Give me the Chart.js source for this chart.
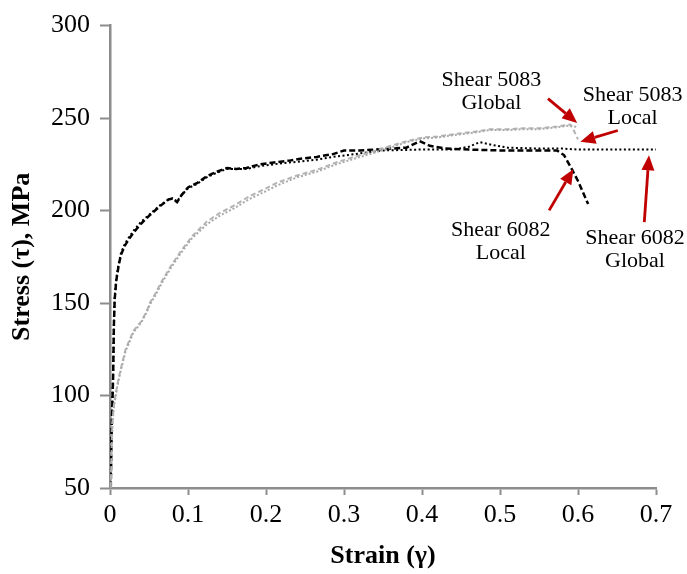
<!DOCTYPE html>
<html>
<head>
<meta charset="utf-8">
<script src="https://cdn.jsdelivr.net/npm/chart.js@4.4.1/dist/chart.umd.min.js"></script>
<style>
  html, body { margin: 0; padding: 0; background: #fff; }
  canvas { display: block; }
</style>
</head>
<body>
<canvas id="grafico" width="687" height="574"></canvas>
<script>
// Valores (deformación, tensión en MPa)
const strain6082Local = [0.001, 0.002, 0.004, 0.005, 0.006, 0.008, 0.011, 0.014, 0.019, 0.025, 0.03, 0.04, 0.051, 0.063, 0.075, 0.08, 0.086, 0.092, 0.1, 0.112, 0.124, 0.137, 0.15, 0.162, 0.175, 0.192, 0.21, 0.23, 0.244, 0.265, 0.286, 0.3, 0.32, 0.34, 0.36, 0.38, 0.397, 0.41, 0.43, 0.46, 0.5, 0.54, 0.573, 0.582, 0.59, 0.6, 0.613];
const stress6082Local = [50, 80, 110, 138, 152, 162, 170, 176, 181, 185, 188, 193, 197.5, 202, 206, 206.5, 204.5, 208.5, 212.5, 215, 218.5, 221, 223, 222.5, 223, 225, 226, 227, 228, 229, 230.5, 232.5, 232.5, 233, 233.5, 234, 237.5, 235, 233.5, 233, 232.5, 232.5, 232.5, 230, 224, 216, 203.5];

const strain6082Global = [0.001, 0.002, 0.004, 0.005, 0.006, 0.008, 0.011, 0.014, 0.019, 0.025, 0.03, 0.04, 0.051, 0.063, 0.075, 0.08, 0.086, 0.092, 0.1, 0.112, 0.124, 0.137, 0.15, 0.162, 0.175, 0.192, 0.21, 0.23, 0.244, 0.265, 0.286, 0.305, 0.33, 0.35, 0.4, 0.44, 0.46, 0.474, 0.49, 0.51, 0.55, 0.58, 0.6, 0.65, 0.7];
const stress6082Global = [50, 82, 112, 140, 153, 163, 171, 177, 182, 186, 189, 194, 198, 202.5, 206, 206.5, 205, 208.5, 212, 214.5, 218, 220.5, 222.5, 222.5, 222.5, 224, 225, 226, 226.5, 227.5, 229, 230, 231.5, 232.5, 233, 233, 234.5, 237, 235.5, 234, 233.5, 233.5, 233, 233, 233];

const strain5083Local = [0.001, 0.003, 0.005, 0.007, 0.009, 0.013, 0.02, 0.03, 0.04, 0.047, 0.051, 0.058, 0.066, 0.078, 0.09, 0.105, 0.124, 0.14, 0.158, 0.18, 0.2, 0.214, 0.24, 0.265, 0.29, 0.305, 0.337, 0.36, 0.38, 0.401, 0.42, 0.444, 0.465, 0.487, 0.51, 0.53, 0.55, 0.573, 0.59, 0.595, 0.6];
const stress5083Local = [50, 85, 95, 100, 105, 113, 125, 135, 140, 145.5, 150, 155, 161.5, 170, 177.5, 186, 194, 198.5, 202.5, 208, 212, 215, 219, 222, 226, 228, 232, 235, 237.5, 239.5, 240, 241.5, 242.5, 244, 244, 244.5, 244.5, 245.5, 246.5, 243, 238.5];

const strain5083Global = [0.001, 0.003, 0.005, 0.007, 0.009, 0.013, 0.02, 0.03, 0.04, 0.047, 0.051, 0.058, 0.066, 0.078, 0.09, 0.105, 0.124, 0.14, 0.158, 0.18, 0.2, 0.214, 0.24, 0.265, 0.29, 0.305, 0.337, 0.36, 0.38, 0.401, 0.42, 0.444, 0.465, 0.487, 0.51, 0.53, 0.55, 0.573, 0.59, 0.6];
const stress5083Global = [50, 84, 94, 99, 104, 112, 124, 134, 139.5, 145, 149, 154, 160.5, 169, 176.5, 185, 192.5, 197, 201, 206.5, 210.5, 213.5, 218, 221, 225, 227, 231, 234, 237, 239, 239.5, 241, 242, 243.5, 243.5, 244, 244, 245, 246, 245];

const xTicks = [0, 0.1, 0.2, 0.3, 0.4, 0.5, 0.6, 0.7];
const yTicks = [50, 100, 150, 200, 250, 300];

const labelLines = [
  ["Shear 5083", "Global"],
  ["Shear 5083", "Local"],
  ["Shear 6082", "Local"],
  ["Shear 6082", "Global"]
];

// Posiciones de las etiquetas y flechas (en unidades de datos)
const anotaciones = [
  { x: 0.489, y: 270.5, from: [0.5615, 260.5], to: [0.599, 247.4] },
  { x: 0.670, y: 262.6, from: [0.651, 243.3], to: [0.603, 237.2] },
  { x: 0.501, y: 189.5, from: [0.563, 200.1], to: [0.594, 222.4] },
  { x: 0.673, y: 184.8, from: [0.685, 193.8], to: [0.691, 229.9] }
];

const SERIF = "'Liberation Serif', 'Times New Roman', serif";
const ROJO = "#c00000";
const GRIS_EJE = "#8c8c8c";

function puntos(xs, ys) {
  return xs.map((x, i) => ({ x: x, y: ys[i] }));
}

const pluginAnotaciones = {
  id: "anotaciones",
  afterDatasetsDraw(chart) {
    const ctx = chart.ctx;
    const sx = chart.scales.x;
    const sy = chart.scales.y;
    ctx.save();
    anotaciones.forEach((a, i) => {
      // texto
      ctx.fillStyle = "#000";
      ctx.font = "22px " + SERIF;
      ctx.textAlign = "center";
      ctx.textBaseline = "middle";
      const px = sx.getPixelForValue(a.x);
      const py = sy.getPixelForValue(a.y);
      labelLines[i].forEach((linea, j) => {
        ctx.fillText(linea, px, py + j * 23);
      });
      // flecha
      const x1 = sx.getPixelForValue(a.from[0]);
      const y1 = sy.getPixelForValue(a.from[1]);
      const x2 = sx.getPixelForValue(a.to[0]);
      const y2 = sy.getPixelForValue(a.to[1]);
      const ang = Math.atan2(y2 - y1, x2 - x1);
      const largo = 15;
      const ancho = 6.5;
      const bx = x2 - largo * Math.cos(ang);
      const by = y2 - largo * Math.sin(ang);
      ctx.strokeStyle = ROJO;
      ctx.lineWidth = 2.8;
      ctx.beginPath();
      ctx.moveTo(x1, y1);
      ctx.lineTo(bx, by);
      ctx.stroke();
      ctx.fillStyle = ROJO;
      ctx.beginPath();
      ctx.moveTo(x2, y2);
      ctx.lineTo(bx + ancho * Math.sin(ang), by - ancho * Math.cos(ang));
      ctx.lineTo(bx - ancho * Math.sin(ang), by + ancho * Math.cos(ang));
      ctx.closePath();
      ctx.fill();
    });
    ctx.restore();
  }
};

const configuracion = {
  type: "scatter",
  data: {
    datasets: [
      {
        label: "Shear 5083 Global",
        data: puntos(strain5083Global, stress5083Global),
        showLine: true,
        borderColor: "#a9a9a9",
        borderWidth: 2,
        borderDash: [2, 2],
        pointRadius: 0
      },
      {
        label: "Shear 5083 Local",
        data: puntos(strain5083Local, stress5083Local),
        showLine: true,
        borderColor: "#b4b4b4",
        borderWidth: 2,
        borderDash: [5, 3],
        pointRadius: 0
      },
      {
        label: "Shear 6082 Global",
        data: puntos(strain6082Global, stress6082Global),
        showLine: true,
        borderColor: "#000",
        borderWidth: 2,
        borderDash: [2, 2.5],
        pointRadius: 0
      },
      {
        label: "Shear 6082 Local",
        data: puntos(strain6082Local, stress6082Local),
        showLine: true,
        borderColor: "#000",
        borderWidth: 2.5,
        borderDash: [6, 3],
        pointRadius: 0
      }
    ]
  },
  options: {
    responsive: false,
    animation: false,
    layout: { padding: { left: 0, right: 31, top: 22, bottom: 0 } },
    plugins: {
      legend: { display: false },
      tooltip: { enabled: false }
    },
    scales: {
      x: {
        type: "linear",
        min: 0,
        max: 0.7,
        afterBuildTicks: (scale) => { scale.ticks = xTicks.map(v => ({ value: v })); },
        afterFit: (scale) => { scale.height = 86; },
        ticks: {
          color: "#000",
          font: { family: SERIF, size: 26 },
          padding: 5,
          maxRotation: 0,
          callback: (v) => (v === 0 ? "0" : v.toFixed(1))
        },
        grid: { drawOnChartArea: false, tickLength: 7, color: GRIS_EJE, tickWidth: 2 },
        border: { color: GRIS_EJE, width: 2.5 },
        title: {
          display: true,
          text: "Strain (\u03B3)",
          color: "#000",
          font: { family: SERIF, size: 26, weight: "bold" },
          padding: { top: 0, bottom: 2 }
        }
      },
      y: {
        type: "linear",
        min: 50,
        max: 300,
        afterBuildTicks: (scale) => { scale.ticks = yTicks.map(v => ({ value: v })); },
        afterFit: (scale) => { scale.width = 110; },
        ticks: {
          color: "#000",
          font: { family: SERIF, size: 26 },
          padding: 10
        },
        grid: { drawOnChartArea: false, tickLength: 10, color: GRIS_EJE, tickWidth: 2 },
        border: { color: GRIS_EJE, width: 2.5 },
        title: {
          display: true,
          text: "Stress (\u03C4), MPa",
          color: "#000",
          font: { family: SERIF, size: 26, weight: "bold" },
          padding: { top: 7, bottom: 0 }
        }
      }
    }
  },
  plugins: [pluginAnotaciones]
};

const graficoCurvas = new Chart(document.querySelector("#grafico"), configuracion);
</script>
</body>
</html>
